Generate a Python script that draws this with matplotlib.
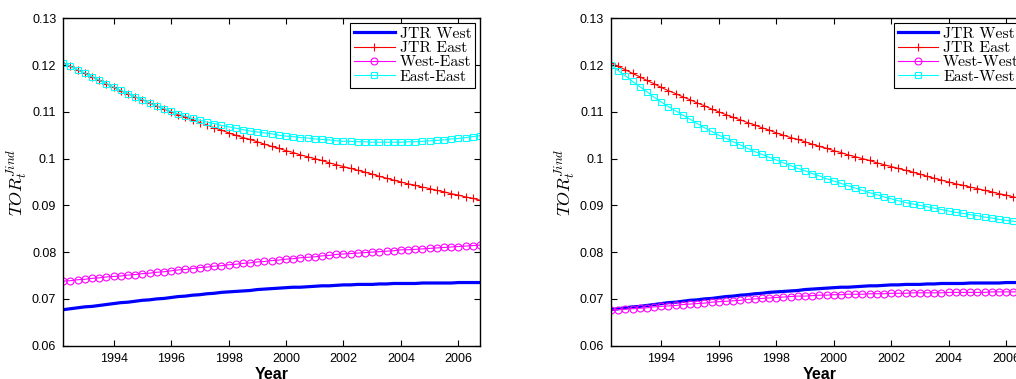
import numpy as np
import matplotlib
matplotlib.use('Agg')
import matplotlib.pyplot as plt
from matplotlib.ticker import FuncFormatter

plt.rcParams['font.family'] = ['Liberation Sans', 'DejaVu Sans']
plt.rcParams['mathtext.fontset'] = 'cm'

# Quarterly time index, 1992Q2 .. 2006Q4
years = np.arange(1992.25, 2006.76, 0.25)

jtr_west = [0.0677, 0.0679, 0.0681,
            0.0683, 0.0684, 0.0686, 0.0688, 0.0690, 0.0692, 0.0693, 0.0695,
            0.0697, 0.0698, 0.0700, 0.0701, 0.0703, 0.0705, 0.0706, 0.0708,
            0.0709, 0.0711, 0.0712, 0.0714, 0.0715, 0.0716, 0.0717, 0.0718,
            0.0720, 0.0721, 0.0722, 0.0723, 0.0724, 0.0725, 0.0725, 0.0726,
            0.0727, 0.0728, 0.0728, 0.0729, 0.0730, 0.0730, 0.0731, 0.0731,
            0.0731, 0.0732, 0.0732, 0.0733, 0.0733, 0.0733, 0.0733, 0.0734,
            0.0734, 0.0734, 0.0734, 0.0734, 0.0735, 0.0735, 0.0735, 0.0735]

jtr_east = [0.1205, 0.1197, 0.1190,
            0.1182, 0.1175, 0.1167, 0.1160, 0.1152, 0.1145, 0.1139, 0.1132,
            0.1126, 0.1119, 0.1113, 0.1106, 0.1100, 0.1094, 0.1088, 0.1083,
            0.1077, 0.1072, 0.1066, 0.1061, 0.1055, 0.1050, 0.1045, 0.1041,
            0.1036, 0.1031, 0.1026, 0.1022, 0.1017, 0.1013, 0.1008, 0.1004,
            0.1000, 0.0996, 0.0991, 0.0987, 0.0983, 0.0979, 0.0975, 0.0971,
            0.0967, 0.0962, 0.0958, 0.0954, 0.0950, 0.0946, 0.0943, 0.0939,
            0.0936, 0.0932, 0.0929, 0.0925, 0.0922, 0.0918, 0.0915, 0.0911]

west_east = [0.0738, 0.0739, 0.0741,
             0.0742, 0.0744, 0.0745, 0.0747, 0.0748, 0.0749, 0.0751, 0.0752,
             0.0754, 0.0755, 0.0757, 0.0758, 0.0760, 0.0762, 0.0763, 0.0765,
             0.0767, 0.0768, 0.0770, 0.0771, 0.0773, 0.0774, 0.0776, 0.0777,
             0.0779, 0.0780, 0.0782, 0.0783, 0.0785, 0.0786, 0.0788, 0.0789,
             0.0790, 0.0792, 0.0793, 0.0795, 0.0796, 0.0797, 0.0798, 0.0799,
             0.0800, 0.0801, 0.0802, 0.0803, 0.0805, 0.0805, 0.0806, 0.0807,
             0.0808, 0.0809, 0.0810, 0.0811, 0.0812, 0.0813, 0.0814, 0.0815]

east_east = [0.1205, 0.1197, 0.1190,
             0.1183, 0.1175, 0.1168, 0.1160, 0.1153, 0.1146, 0.1139, 0.1132,
             0.1126, 0.1119, 0.1113, 0.1107, 0.1101, 0.1096, 0.1091, 0.1086,
             0.1082, 0.1078, 0.1075, 0.1071, 0.1068, 0.1065, 0.1062, 0.1059,
             0.1057, 0.1055, 0.1053, 0.1050, 0.1048, 0.1047, 0.1045, 0.1044,
             0.1042, 0.1041, 0.1040, 0.1038, 0.1037, 0.1037, 0.1036, 0.1036,
             0.1035, 0.1035, 0.1035, 0.1035, 0.1035, 0.1036, 0.1036, 0.1037,
             0.1038, 0.1039, 0.1040, 0.1042, 0.1043, 0.1045, 0.1047, 0.1049]

west_west = [0.0676, 0.0677, 0.0678,
             0.0679, 0.0680, 0.0681, 0.0683, 0.0684, 0.0685, 0.0686, 0.0688,
             0.0689, 0.0690, 0.0691, 0.0693, 0.0694, 0.0695, 0.0696, 0.0697,
             0.0699, 0.0700, 0.0701, 0.0702, 0.0703, 0.0704, 0.0705, 0.0706,
             0.0706, 0.0707, 0.0708, 0.0708, 0.0709, 0.0709, 0.0710, 0.0710,
             0.0710, 0.0711, 0.0711, 0.0711, 0.0712, 0.0712, 0.0712, 0.0713,
             0.0713, 0.0713, 0.0713, 0.0713, 0.0714, 0.0714, 0.0714, 0.0714,
             0.0714, 0.0714, 0.0715, 0.0715, 0.0715, 0.0715, 0.0715, 0.0715]

east_west = [0.1200, 0.1188, 0.1177,
             0.1165, 0.1154, 0.1143, 0.1131, 0.1121, 0.1111, 0.1102, 0.1093,
             0.1084, 0.1075, 0.1066, 0.1058, 0.1050, 0.1043, 0.1036, 0.1029,
             0.1022, 0.1015, 0.1009, 0.1003, 0.0997, 0.0991, 0.0985, 0.0979,
             0.0974, 0.0968, 0.0963, 0.0957, 0.0952, 0.0947, 0.0942, 0.0937,
             0.0932, 0.0927, 0.0923, 0.0918, 0.0914, 0.0910, 0.0906, 0.0903,
             0.0900, 0.0897, 0.0894, 0.0891, 0.0888, 0.0885, 0.0883, 0.0880,
             0.0878, 0.0875, 0.0873, 0.0870, 0.0868, 0.0866, 0.0864, 0.0862]

xticks = [1994, 1996, 1998, 2000, 2002, 2004, 2006]
yticks = [0.06, 0.07, 0.08, 0.09, 0.10, 0.11, 0.12, 0.13]

panels = [
    ('West-East', west_east, 'East-East', east_east),
    ('West-West', west_west, 'East-West', east_west),
]

fig = plt.figure(figsize=(10.16, 3.79), dpi=100)
positions = [[0.0623, 0.0879, 0.4101, 0.8639],
             [0.6014, 0.0879, 0.4101, 0.8639]]

for pos, (mag_label, mag_vals, cyan_label, cyan_vals) in zip(positions, panels):
    ax = fig.add_axes(pos)
    ax.plot(years, jtr_west, color='#0000ff', lw=2.3, label='JTR West')
    ax.plot(years, jtr_east, color='#ff0000', lw=0.8, marker='+', ms=6,
            mew=0.8, label='JTR East')
    ax.plot(years, mag_vals, color='#ff00ff', lw=0.8, marker='o', ms=5,
            mfc='none', mew=0.8, label=mag_label)
    ax.plot(years, cyan_vals, color='#00ffff', lw=0.8, marker='s', ms=4.5,
            mfc='none', mew=0.8, label=cyan_label)

    ax.set_xlim(1992.25, 2006.75)
    ax.set_ylim(0.06, 0.13)
    ax.set_xticks(xticks)
    ax.set_yticks(yticks)
    ax.yaxis.set_major_formatter(FuncFormatter(lambda v, p: '{:g}'.format(round(v, 4))))
    ax.tick_params(direction='in', top=True, right=True, length=4, width=0.8,
                   labelsize=9, pad=5)
    for s in ax.spines.values():
        s.set_linewidth(1.0)

    ax.set_xlabel('Year', fontsize=11.5, fontweight='bold', labelpad=2)
    ax.set_ylabel(r'$TOR_t^{Jind}$', fontsize=13, labelpad=2)

    leg = ax.legend(loc='upper right', prop={'family': 'cmr10', 'size': 11.3},
                    fancybox=False, framealpha=1, edgecolor='black',
                    borderaxespad=0.3, borderpad=0.25, labelspacing=0.02,
                    handlelength=2.6, handletextpad=0.3)
    leg.get_frame().set_linewidth(0.8)

fig.savefig('out.png', dpi=100)
